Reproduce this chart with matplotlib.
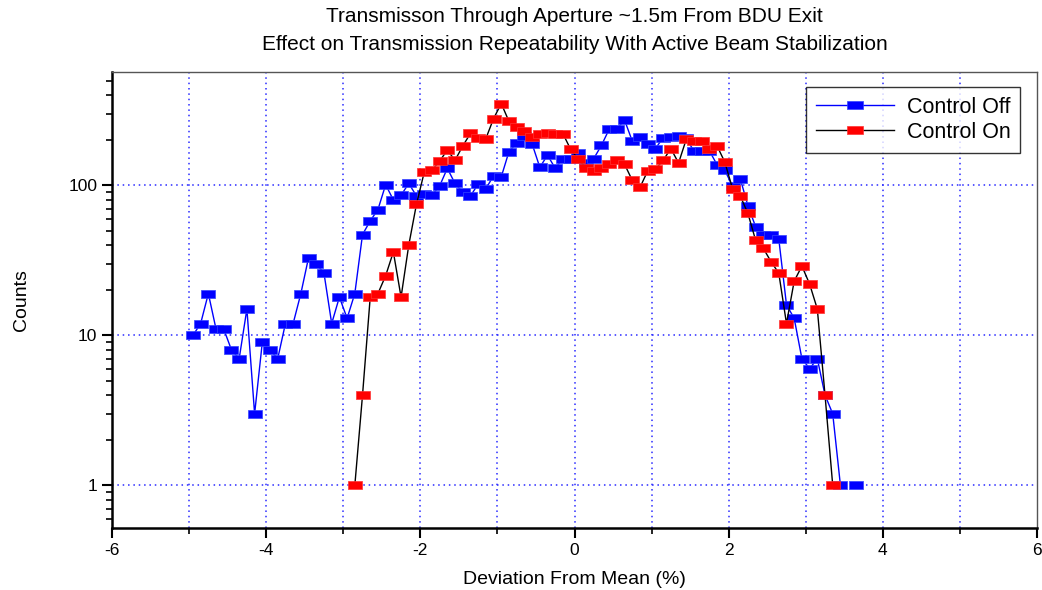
import numpy as np
import matplotlib
matplotlib.use("Agg")
import matplotlib.pyplot as plt
from matplotlib.ticker import FixedLocator, FixedFormatter, MultipleLocator, LogLocator, NullFormatter

plt.rcParams['font.family'] = ['Liberation Sans', 'DejaVu Sans']
plt.rcParams['axes.unicode_minus'] = False

# Bin centres (deviation from mean, %), 0.1 % bins
x_off = np.round(np.arange(-4.95, 3.66, 0.1), 2)
x_on = np.round(np.arange(-2.85, 3.36, 0.1), 2)

control_off = [10, 12, 19, 11, 11, 8, 7, 15, 3, 9,
               8, 7, 12, 12, 19, 33, 30, 26, 12, 18,
               13, 19, 47, 58, 69, 101, 80, 86, 103, 85,
               88, 86, 99, 130, 103, 90, 85, 102, 95, 116,
               114, 168, 191, 215, 189, 132, 159, 130, 151, 150,
               165, 140, 151, 185, 237, 239, 272, 197, 211, 188,
               176, 208, 211, 215, 206, 169, 169, 170, 137, 126,
               99, 111, 73, 53, 47, 47, 44, 16, 13, 7,
               6, 7, 4, 3, 1, np.nan, 1]

control_on = [1, 4, 18, 19, 25, 36, 18, 40, 75, 122,
              126, 145, 172, 147, 183, 222, 206, 205, 279, 351,
              267, 246, 230, 211, 221, 225, 221, 221, 174, 149,
              131, 125, 130, 138, 147, 138, 108, 97, 125, 128,
              147, 176, 141, 203, 197, 197, 176, 183, 143, 95,
              85, 65, 43, 38, 31, 26, 12, 23, 29, 22,
              15, 4, 1]

labels = ["Control Off", "Control On"]
title_lines = ["Transmisson Through Aperture ~1.5m From BDU Exit",
               "Effect on Transmission Repeatability With Active Beam Stabilization"]
x_ticks = [-6, -4, -2, 0, 2, 4, 6]
y_ticks = [1, 10, 100]
y_ticklabels = ["1", "10", "100"]

fig = plt.figure(figsize=(10.42, 5.90), dpi=100)
ax = fig.add_axes([112/1042, 1-528/590, (1037-112)/1042, (528-72)/590])

rect = [(-1, -0.55), (1, -0.55), (1, 0.55), (-1, 0.55), (-1, -0.55)]

ax.plot(x_off, control_off, color='#0000ff', lw=1.0, marker=rect, markersize=9.5,
        markerfacecolor='#0000ff', markeredgecolor='#3344ff', markeredgewidth=0.5,
        label=labels[0], zorder=3)
ax.plot(x_on, control_on, color='black', lw=1.0, marker=rect, markersize=9.5,
        markerfacecolor='#ff0000', markeredgecolor='#ff3333', markeredgewidth=0.5,
        label=labels[1], zorder=4)

ax.set_yscale('log')
ax.set_xlim(-6, 6)
ax.set_ylim(0.52, 570)

ax.xaxis.set_major_locator(FixedLocator(x_ticks))
ax.xaxis.set_minor_locator(MultipleLocator(1))
ax.yaxis.set_major_locator(FixedLocator(y_ticks))
ax.yaxis.set_major_formatter(FixedFormatter(y_ticklabels))
ax.yaxis.set_minor_locator(LogLocator(base=10, subs=np.arange(2, 10)))
ax.yaxis.set_minor_formatter(NullFormatter())

ax.tick_params(axis='both', which='major', direction='out', length=7, width=1.5, labelsize=12.5)
ax.tick_params(axis='both', which='minor', direction='out', length=4, width=1.2)
ax.tick_params(axis='x', which='both', top=False)
ax.tick_params(axis='y', which='both', right=False)

for side in ['left', 'bottom']:
    ax.spines[side].set_linewidth(1.8)
    ax.spines[side].set_color('black')
for side in ['top', 'right']:
    ax.spines[side].set_linewidth(1.0)
    ax.spines[side].set_color('#555555')

grid_kw = dict(color='#2a2aff', linestyle=(0, (1, 2.5)), linewidth=1.1)
for xv in range(-5, 6):
    ax.axvline(xv, zorder=1, **grid_kw)
for yv in y_ticks:
    ax.axhline(yv, zorder=1, **grid_kw)

ax.set_xlabel("Deviation From Mean (%)", fontsize=14, labelpad=10)
ax.set_ylabel("Counts", fontsize=14, labelpad=28)
fig.text(574.5/1042, 1-17/590, title_lines[0], ha='center', va='center', fontsize=15)
fig.text(574.5/1042, 1-44/590, title_lines[1], ha='center', va='center', fontsize=15)

leg = ax.legend(loc='upper right', bbox_to_anchor=((1020-112)/(1037-112), (528-87)/(528-72)),
                fontsize=15.5, frameon=True, fancybox=False, edgecolor='black',
                numpoints=1, handlelength=3.6, borderpad=0.45, labelspacing=0.2,
                handletextpad=0.6, borderaxespad=0, markerscale=1.2)
leg.get_frame().set_linewidth(1.0)

fig.savefig("out.png", dpi=100)
